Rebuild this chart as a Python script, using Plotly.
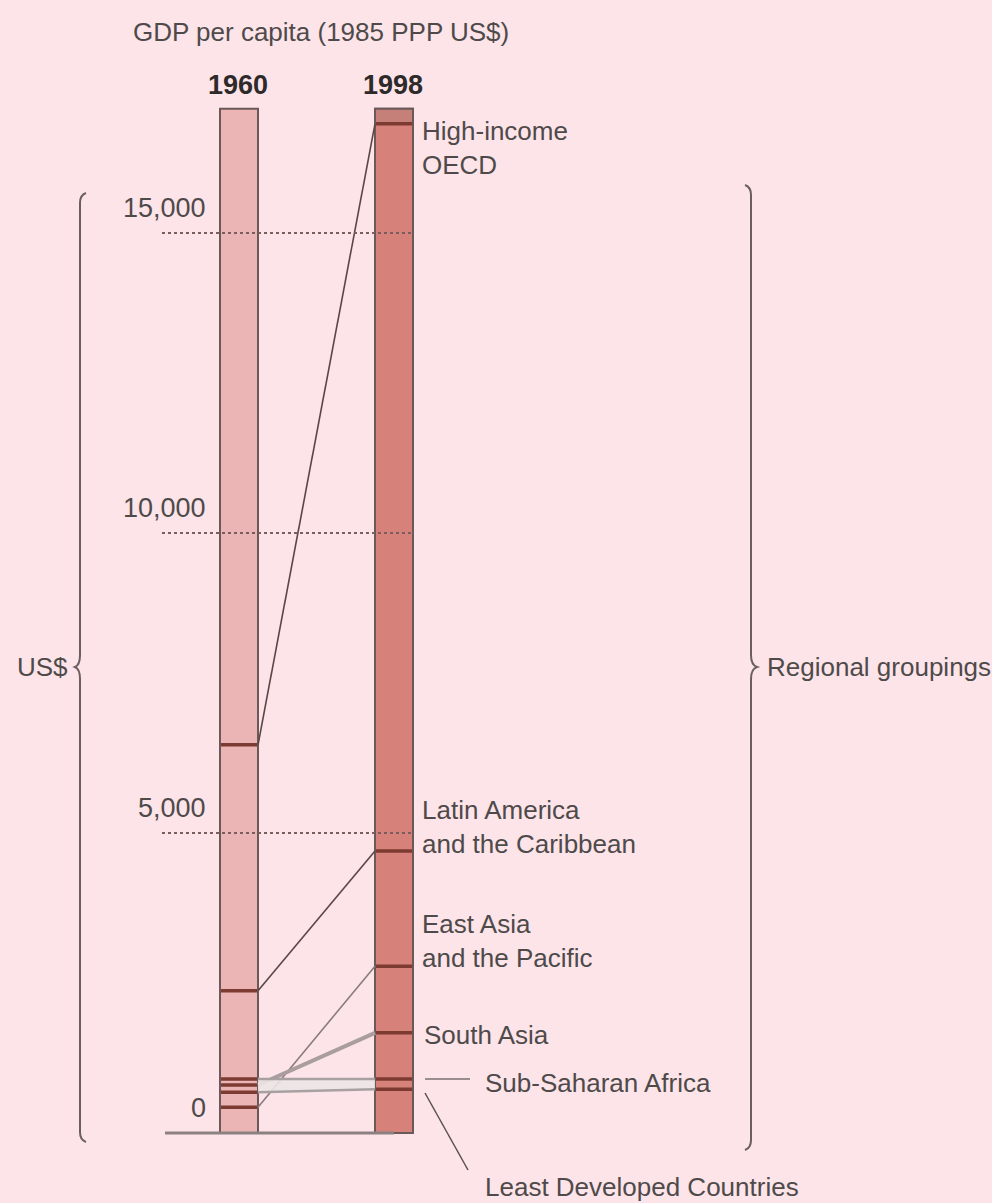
import plotly.graph_objects as go

# ---------------- data ----------------
regions = ["High-income OECD", "Latin America and the Caribbean", "East Asia and the Pacific",
           "South Asia", "Sub-Saharan Africa", "Least Developed Countries"]
gdp_1960 = [6470, 2370, 430, 800, 900, 680]
gdp_1998 = [16820, 4700, 2780, 1670, 900, 730]
years = ["1960", "1998"]
scale_top = 17070
tick_values = [0, 5000, 10000, 15000]
tick_labels = ["0", "5,000", "10,000", "15,000"]
region_labels = ["High-income<br>OECD", "Latin America<br>and the Caribbean", "East Asia<br>and the Pacific",
                 "South Asia", "Sub-Saharan Africa", "Least Developed Countries"]

# ---------------- layout constants ----------------
W, H = 992, 1203
ZERO_PX = 1133
PX_PER_USD = 0.06


def v(p):
    """pixel row -> value on the y axis"""
    return (ZERO_PX - p) / PX_PER_USD


BAR_X = [239, 394]
BAR_W = 38
L0, R0 = BAR_X[0] - BAR_W / 2, BAR_X[0] + BAR_W / 2
L1, R1 = BAR_X[1] - BAR_W / 2, BAR_X[1] + BAR_W / 2

BG = "#fce4e9"
FONT = "Liberation Sans, Arial, sans-serif"
FS = 26
TXT = "#4f4a4a"
OUTLINE = "#6b5858"
BAND = "#7c3a31"

conn_colors = ["#5a4646", "#5a4646", "#8a7c7c", "#a99d9d", "#a9a1a1", "#a9a1a1"]
conn_widths = [1.6, 1.6, 1.6, 4, 2.5, 2.5]
label_shift = [-24, 24, 25, -2, -4, -98]
label_x = [420, 420, 420, 422, 483, 483]

fig = go.Figure()

# scale columns
fig.add_trace(go.Bar(x=BAR_X, y=[scale_top] * 2, width=BAR_W, base=0,
                     marker=dict(color=["#ebb5b5", "#d6827a"], line=dict(color=OUTLINE, width=2)),
                     hoverinfo="skip", showlegend=False))
fig.add_trace(go.Bar(x=[BAR_X[1]], y=[scale_top - gdp_1998[0]], base=[gdp_1998[0]], width=BAR_W,
                     marker=dict(color="#c48079", line=dict(color=OUTLINE, width=2)),
                     hoverinfo="skip", showlegend=False))

# baseline
fig.add_trace(go.Scatter(x=[165, BAR_X[1]], y=[0, 0], mode="lines",
                         line=dict(color="#8c8080", width=3), hoverinfo="skip", showlegend=False))

# connecting lines
for i, r in enumerate(regions):
    fill = "tonexty" if i == 5 else None
    fig.add_trace(go.Scatter(x=[R0, L1], y=[gdp_1960[i], gdp_1998[i]], mode="lines",
                             line=dict(color=conn_colors[i], width=conn_widths[i]),
                             fill=fill, fillcolor="rgba(236,230,230,0.9)",
                             hoverinfo="skip", showlegend=False, name=r))

# bands inside bars
for vals, (l, rr) in ((gdp_1960, (L0, R0)), (gdp_1998, (L1, R1))):
    xs, ys = [], []
    for val in vals:
        xs += [l + 1, rr - 1, None]
        ys += [val, val, None]
    fig.add_trace(go.Scatter(x=xs, y=ys, mode="lines", line=dict(color=BAND, width=3.5),
                             hoverinfo="skip", showlegend=False))

# dotted reference lines
xs, ys = [], []
for tv in tick_values[1:]:
    xs += [162, R1, None]
    ys += [tv, tv, None]
fig.add_trace(go.Scatter(x=xs, y=ys, mode="lines", line=dict(color="#7a5e5e", width=2, dash="dot"),
                         hoverinfo="skip", showlegend=False))

ann = []
for tv, tl in zip(tick_values, tick_labels):
    ann.append(dict(x=208, y=tv, text=tl, xanchor="right", yanchor="middle", yshift=25,
                    showarrow=False, font=dict(size=FS + 1, color=TXT, family=FONT)))
for i, lab in enumerate(region_labels):
    ann.append(dict(x=label_x[i], y=gdp_1998[i], text=lab, xanchor="left", yanchor="middle",
                    yshift=label_shift[i], align="left", showarrow=False,
                    font=dict(size=FS, color=TXT, family=FONT)))
for x, yr in zip(BAR_X, years):
    ann.append(dict(x=x - 1, y=v(85), text="<b>" + yr + "</b>", xanchor="center", yanchor="middle",
                    showarrow=False, font=dict(size=FS + 1, color="#2e2a2a", family=FONT)))
ann.append(dict(x=321, y=v(32), text="GDP per capita (1985 PPP US$)", xanchor="center", yanchor="middle",
                showarrow=False, font=dict(size=FS, color=TXT, family=FONT)))
ann.append(dict(x=15, y=v(667), text="US$", xanchor="left", yanchor="middle",
                showarrow=False, font=dict(size=FS, color=TXT, family=FONT)))
ann.append(dict(x=765, y=v(667), text="Regional groupings", xanchor="left", yanchor="middle",
                showarrow=False, font=dict(size=FS, color=TXT, family=FONT)))


def path(points_cmds):
    out = []
    for cmd, pts in points_cmds:
        out.append(cmd + " " + " ".join(f"{x},{v(y):.1f}" for x, y in pts))
    return " ".join(out)


brace_left = path([("M", [(86, 193)]), ("Q", [(80, 195), (80, 203)]), ("L", [(80, 655)]),
                   ("Q", [(80, 665), (75, 667)]), ("Q", [(80, 669), (80, 679)]), ("L", [(80, 1132)]),
                   ("Q", [(80, 1140), (86, 1142)])])
brace_right = path([("M", [(745, 185)]), ("Q", [(751, 187), (751, 195)]), ("L", [(751, 655)]),
                    ("Q", [(751, 665), (757, 667)]), ("Q", [(751, 669), (751, 679)]), ("L", [(751, 1140)]),
                    ("Q", [(751, 1148), (745, 1150)])])
shapes = [
    dict(type="path", path=brace_left, line=dict(color="#6a5e5e", width=2)),
    dict(type="path", path=brace_right, line=dict(color="#6a5e5e", width=2)),
    dict(type="line", x0=425, x1=470, y0=v(1079), y1=v(1079), line=dict(color="#7a7070", width=1.5)),
    dict(type="line", x0=425, x1=468, y0=v(1093), y1=v(1170), line=dict(color="#5a5050", width=1.5)),
]

fig.update_layout(
    width=W, height=H, margin=dict(l=0, r=0, t=0, b=0),
    paper_bgcolor=BG, plot_bgcolor=BG, barmode="overlay",
    xaxis=dict(range=[0, W], visible=False, fixedrange=True),
    yaxis=dict(range=[v(H), v(0)], visible=False, fixedrange=True),
    annotations=ann, shapes=shapes, showlegend=False,
)

fig.write_html("out.html", config={"displayModeBar": False},
               post_script="document.body.style.margin='0';")
